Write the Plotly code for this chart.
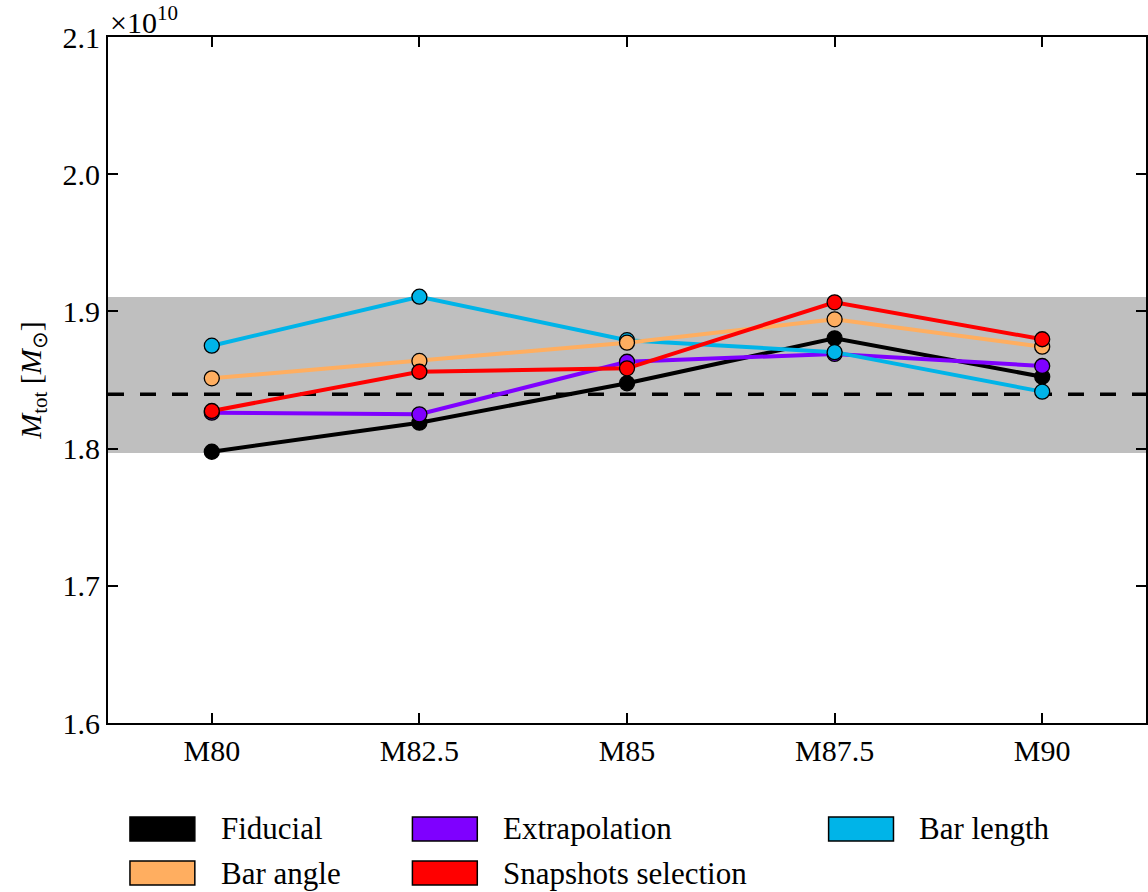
import plotly.graph_objects as go

categories = ["M80", "M82.5", "M85", "M87.5", "M90"]
fiducial = [1.7977, 1.8189, 1.8476, 1.8804, 1.8524]
extrapolation = [1.8262, 1.8250, 1.8633, 1.8690, 1.8602]
bar_length = [1.8750, 1.9107, 1.8790, 1.8703, 1.8415]
bar_angle = [1.8512, 1.8639, 1.8772, 1.8942, 1.8743]
snapshots = [1.8274, 1.8560, 1.8585, 1.9066, 1.8797]
band_low, band_high = 1.7968, 1.9105
mean_value = 1.8396
y_ticks = [1.6, 1.7, 1.8, 1.9, 2.0, 2.1]

series = [
    ("Fiducial", fiducial, "#000000"),
    ("Extrapolation", extrapolation, "#7f00ff"),
    ("Bar length", bar_length, "#00b4e8"),
    ("Bar angle", bar_angle, "#ffae60"),
    ("Snapshots selection", snapshots, "#ff0000"),
]

FONT = "Liberation Serif"
xs = list(range(len(categories)))

W, H = 1148, 892
L, R, T, B = 108, 1148, 37, 723


def px(x):
    return (x - L) / (R - L)


def py(y):
    return (B - y) / (B - T)


fig = go.Figure()
for name, vals, col in series:
    fig.add_trace(go.Scatter(
        x=xs, y=vals, mode="lines+markers", name=name,
        line=dict(color=col, width=4),
        marker=dict(color=col, size=15, line=dict(color="black", width=1.3)),
        showlegend=False,
    ))

fig.add_shape(type="rect", xref="paper", yref="y", x0=0, x1=1,
              y0=band_low, y1=band_high, fillcolor="#bfbfbf",
              line=dict(width=0), layer="below")
fig.add_shape(type="line", xref="paper", yref="y", x0=0, x1=1,
              y0=mean_value, y1=mean_value,
              line=dict(color="black", width=3.5, dash="16px,16px"), layer="below")

# manual legend (row-major as in the reference)
legend_pos = [(0, 0), (1, 0), (2, 0), (0, 1), (1, 1)]
col_x = [130, 413, 830]
row_y = [829, 873]
for (name, vals, col), (ci, ri) in zip(series, legend_pos):
    x0 = col_x[ci]
    yc = row_y[ri]
    fig.add_shape(type="rect", xref="paper", yref="paper",
                  x0=px(x0), x1=px(x0 + 65),
                  y0=py(yc + 12), y1=py(yc - 12),
                  fillcolor=col, line=dict(color="black", width=1.5))
    fig.add_annotation(xref="paper", yref="paper", x=px(x0 + 89), y=py(yc),
                       text=name, showarrow=False, xanchor="left", yanchor="middle",
                       font=dict(family=FONT, size=31, color="black"))

fig.add_annotation(xref="paper", yref="paper", x=px(108), y=py(20),
                   text="×10<sup>10</sup>", showarrow=False, xanchor="left",
                   yanchor="middle", font=dict(family=FONT, size=30, color="black"))

fig.update_layout(
    width=W, height=H,
    margin=dict(l=L, r=W - R, t=T, b=H - B),
    paper_bgcolor="white", plot_bgcolor="white",
    font=dict(family=FONT, size=30, color="black"),
    showlegend=False,
)
fig.update_xaxes(
    range=[-0.5, 4.5], tickvals=xs, ticktext=categories,
    showgrid=False, zeroline=False, showline=True, linecolor="black", linewidth=2,
    mirror="ticks", ticks="inside", ticklen=10, tickwidth=1.5, tickcolor="black",
    tickfont=dict(family=FONT, size=30, color="black"),
)
fig.update_yaxes(
    range=[1.6, 2.1], tickvals=y_ticks, ticktext=[f"{v:.1f}" for v in y_ticks],
    showgrid=False, zeroline=False, showline=True, linecolor="black", linewidth=2,
    mirror="ticks", ticks="inside", ticklen=10, tickwidth=1.5, tickcolor="black",
    tickfont=dict(family=FONT, size=30, color="black"),
    title=dict(text="<i>M</i><sub>tot</sub> [<i>M</i><sub>⊙</sub>]",
               font=dict(family=FONT, size=30, color="black"), standoff=12),
)

fig.write_html("out.html")
